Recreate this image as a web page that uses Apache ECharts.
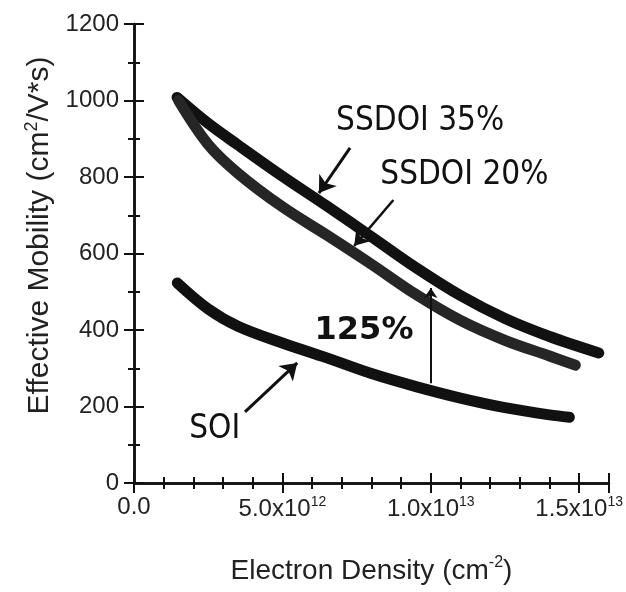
<!DOCTYPE html>
<html>
<head>
<meta charset="utf-8">
<script src="https://cdn.jsdelivr.net/npm/echarts@6/dist/echarts.min.js"></script>
<style>
  html, body { margin: 0; padding: 0; background: #fff; }
  #main { width: 626px; height: 592px; }
</style>
</head>
<body>
<div id="main"></div>
<script>
// electron density (cm^-2) and effective mobility (cm^2/V*s)
const ssdoi35X = [1.45e12, 2.5e12, 3.5e12, 5e12, 6.5e12, 8e12, 9.5e12, 1.1e13, 1.25e13, 1.4e13, 1.566e13];
const ssdoi35Y = [1008, 940, 884, 802, 724, 644, 563, 490, 430, 383, 340];

const ssdoi20X = [1.5e12, 2.5e12, 3.5e12, 5e12, 6.5e12, 8e12, 9.5e12, 1.1e13, 1.25e13, 1.4e13, 1.487e13];
const ssdoi20Y = [1000, 885, 810, 722, 648, 572, 493, 425, 373, 332, 308];

const soiX = [1.46e12, 2.5e12, 3.5e12, 5e12, 6.5e12, 8e12, 9.5e12, 1.1e13, 1.25e13, 1.4e13, 1.467e13];
const soiY = [523, 455, 410, 366, 327, 286, 252, 222, 197, 178, 172];

// annotation arrows: [x1, y1, x2, y2] in data units (tail -> head)
const arrow35 = [7.28e12, 876, 6.23e12, 758];
const arrow20 = [8.74e12, 740, 7.42e12, 620];
const arrowSoi = [3.74e12, 186, 5.5e12, 314];
const arrow125 = [1.0e13, 261, 1.0e13, 510];

// text labels: [text, x, y]
const labels = [
  ['SSDOI 35%', 9.64e12, 946],
  ['SSDOI 20%', 11.13e12, 805],
  ['SOI', 2.72e12, 139]
];
const boldLabel = ['125%', 7.75e12, 397];

const zip = (xs, ys) => xs.map((x, i) => [x, ys[i]]);

function xLabel(v) {
  if (v === 0) return '0.0';
  if (Math.abs(v % 5e12) > 1) return '';
  const e = Math.floor(Math.log10(v) + 1e-9);
  const m = (v / Math.pow(10, e)).toFixed(1);
  return m + 'x10{sup|' + e + '}';
}

const chart = echarts.init(document.getElementById('main'));

const axisLine = { show: true, lineStyle: { color: '#111', width: 2.5 } };
const tickStyle = { inside: true, length: 10, lineStyle: { width: 2, color: '#111' } };

function arrowItem(a, width, size) {
  return [
    { coord: [a[0], a[1]], symbol: 'none', lineStyle: { width: width, color: '#111', type: 'solid' } },
    { coord: [a[2], a[3]], symbol: 'arrow', symbolSize: size }
  ];
}

const lineStyleBase = { width: 11, color: '#111', cap: 'round' };

const option = {
  backgroundColor: '#fff',
  animation: false,
  grid: { left: 134, right: 11, top: 24, bottom: 109, containLabel: false },
  xAxis: [
    {
      type: 'value', position: 'bottom', min: 0, max: 1.6e13, interval: 5e12,
      axisLine: axisLine,
      axisTick: tickStyle,
      minorTick: { show: true, splitNumber: 5, length: 6, lineStyle: { width: 2, color: '#111' } },
      splitLine: { show: false },
      axisLabel: {
        margin: 12, showMaxLabel: false, formatter: xLabel,
        fontFamily: 'Liberation Sans', fontSize: 24, color: '#222',
        rich: { sup: { fontFamily: 'Liberation Sans', fontSize: 14, color: '#222', padding: [0, 0, 14, 0] } }
      },
      name: 'Electron Density (cm{sup|-2})',
      nameLocation: 'middle', nameGap: 72,
      nameTextStyle: {
        fontFamily: 'Liberation Sans', fontSize: 28, color: '#222',
        rich: { sup: { fontFamily: 'Liberation Sans', fontSize: 16, color: '#222', padding: [0, 0, 16, 0] } }
      }
    },
    {
      type: 'value', position: 'top', min: 0, max: 1.6e13, interval: 5e12,
      axisLine: axisLine,
      axisTick: tickStyle,
      minorTick: { show: true, splitNumber: 5, length: 6, lineStyle: { width: 2, color: '#111' } },
      splitLine: { show: false }, axisLabel: { show: false }
    }
  ],
  yAxis: [
    {
      type: 'value', position: 'left', min: 0, max: 1200, interval: 200,
      axisLine: axisLine,
      axisTick: tickStyle,
      minorTick: { show: true, splitNumber: 2, length: 6, lineStyle: { width: 2, color: '#111' } },
      splitLine: { show: false },
      axisLabel: {
        margin: 15, formatter: v => String(v),
        fontFamily: 'Liberation Sans', fontSize: 24, color: '#222'
      },
      name: 'Effective Mobility (cm{sup|2}/V*s)',
      nameLocation: 'middle', nameGap: 76, nameRotate: 90,
      nameTextStyle: {
        fontFamily: 'Liberation Sans', fontSize: 30, color: '#222',
        padding: [0, 0, 0, 36],
        rich: { sup: { fontFamily: 'Liberation Sans', fontSize: 18, color: '#222', padding: [0, 0, 16, 0] } }
      }
    },
    {
      type: 'value', position: 'right', min: 0, max: 1200, interval: 200,
      axisLine: axisLine,
      axisTick: tickStyle,
      minorTick: { show: true, splitNumber: 2, length: 6, lineStyle: { width: 2, color: '#111' } },
      splitLine: { show: false }, axisLabel: { show: false }
    }
  ],
  series: [
    {
      name: 'SSDOI 35%', type: 'line', smooth: 0.35, showSymbol: false,
      data: zip(ssdoi35X, ssdoi35Y),
      lineStyle: lineStyleBase
    },
    {
      name: 'SSDOI 20%', type: 'line', smooth: 0.35, showSymbol: false,
      data: zip(ssdoi20X, ssdoi20Y),
      lineStyle: Object.assign({}, lineStyleBase, { color: '#262626' })
    },
    {
      name: 'SOI', type: 'line', smooth: 0.35, showSymbol: false,
      data: zip(soiX, soiY),
      lineStyle: lineStyleBase,
      markLine: {
        silent: true, animation: false,
        label: { show: false },
        symbol: ['none', 'arrow'],
        data: [
          arrowItem(arrow35, 3, 16),
          arrowItem(arrow20, 2.5, 14),
          arrowItem(arrowSoi, 3, 16),
          arrowItem(arrow125, 2, 10)
        ]
      }
    }
  ]
};

chart.setOption(option);

// place the annotation texts at their data positions
const texts = labels.map(l => {
  const p = chart.convertToPixel({ xAxisIndex: 0, yAxisIndex: 0 }, [l[1], l[2]]);
  return {
    type: 'text', x: p[0], y: p[1],
    style: {
      text: l[0], fill: '#111', align: 'center', verticalAlign: 'middle',
      font: '33px "DejaVu Sans Condensed"'
    }
  };
});
const pb = chart.convertToPixel({ xAxisIndex: 0, yAxisIndex: 0 }, [boldLabel[1], boldLabel[2]]);
texts.push({
  type: 'text', x: pb[0], y: pb[1],
  style: {
    text: boldLabel[0], fill: '#111', align: 'center', verticalAlign: 'middle',
    font: 'bold 32px "DejaVu Sans"'
  }
});
chart.setOption({ graphic: texts });
</script>
</body>
</html>
